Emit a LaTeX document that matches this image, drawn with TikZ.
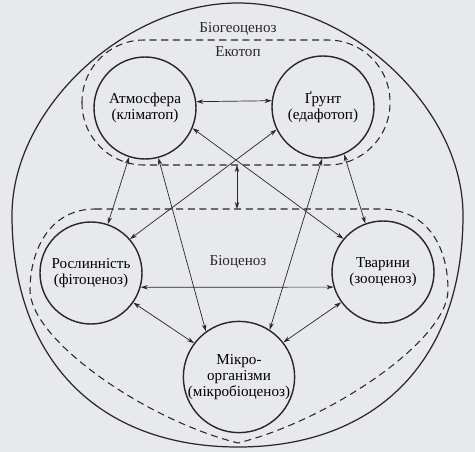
\documentclass[tikz,border=0pt]{standalone}
\usepackage{fontspec}
\setmainfont{Liberation Serif}
\usepackage{tikz}
\usetikzlibrary{arrows.meta,positioning,calc}

\definecolor{paper}{RGB}{232,233,237}
\definecolor{ink}{RGB}{40,40,44}

\begin{document}
\begin{tikzpicture}[
    comp/.style={circle, draw=ink, line width=0.8pt, inner sep=0pt, minimum size=2.04cm, align=center, font=\fontsize{8.6}{8.9}\selectfont},
    zone/.style={draw=ink, line width=0.6pt, dash pattern=on 4pt off 2.6pt},
    lbl/.style={font=\fontsize{8.6}{8.9}\selectfont, text=ink},
    link/.style={{Stealth[length=4pt,width=2.5pt]}-{Stealth[length=4pt,width=2.5pt]}, draw=ink, line width=0.4pt}
]
\fill[paper] (0,0) rectangle (9.5,-9.04);
\useasboundingbox (0,0) rectangle (9.5,-9.04);

% outer boundary
\draw[ink, line width=0.7pt] (0.24,-4.3) .. controls (0.24,-2.18) and (2.5,-0.06) .. (4.76,-0.06)
    .. controls (7.02,-0.06) and (9.26,-2.18) .. (9.26,-4.3)
    .. controls (9.26,-7.18) and (7.56,-8.94) .. (4.76,-8.94)
    .. controls (1.96,-8.94) and (0.24,-7.18) .. cycle;

% ecotope and biocenosis
\draw[zone, rounded corners=1.24cm] (1.64,-0.8) rectangle (7.8,-3.3);
\draw[zone] (1.9,-4.18) -- (7.6,-4.18) .. controls (8.6,-4.18) and (8.96,-5.0) .. (8.96,-5.8)
    .. controls (8.96,-6.8) and (6.6,-8.4) .. (4.76,-8.86)
    .. controls (2.92,-8.4) and (0.6,-6.8) .. (0.6,-5.8)
    .. controls (0.6,-5.0) and (1.0,-4.18) .. cycle;
\coordinate (ecobot) at (4.74,-3.3);
\coordinate (biotop) at (4.74,-4.18);

\node[lbl] (bgc) at (4.76,-0.58) {Біогеоценоз};
\node[lbl] (eco) at (4.76,-1.04) {Екотоп};
\node[lbl] (bio) at (4.76,-5.24) {Біоценоз};

\node[comp] (atm) at (2.90,-2.16) {Атмосфера\\(кліматоп)};
\node[comp] (grunt) at (6.46,-2.14) {Ґрунт\\(едафотоп)};
\node[comp] (rosl) at (1.82,-5.46) {Рослинність\\(фітоценоз)};
\node[comp] (tvar) at (7.66,-5.44) {Тварини\\(зооценоз)};
\node[comp, minimum size=2.16cm] (mikro) at (4.78,-7.54) {Мікро-\\організми\\(мікробіоценоз)};

\draw[link] (atm.7) -- (grunt.173);
\draw[link] (atm.-108) -- (rosl.71);
\draw[link] (atm.-75) -- (mikro.126);
\draw[link] (atm.-23) -- (tvar.140);
\draw[link] (grunt.-154) -- (rosl.41);
\draw[link] (grunt.-91) -- (mikro.57);
\draw[link] (grunt.-66) -- (tvar.110);
\draw[link] (rosl.-16) -- (tvar.197);
\draw[link] (rosl.-35) -- (mikro.143);
\draw[link] (tvar.216) -- (mikro.38);
\draw[link] (ecobot) -- (biotop);
\end{tikzpicture}
\end{document}
